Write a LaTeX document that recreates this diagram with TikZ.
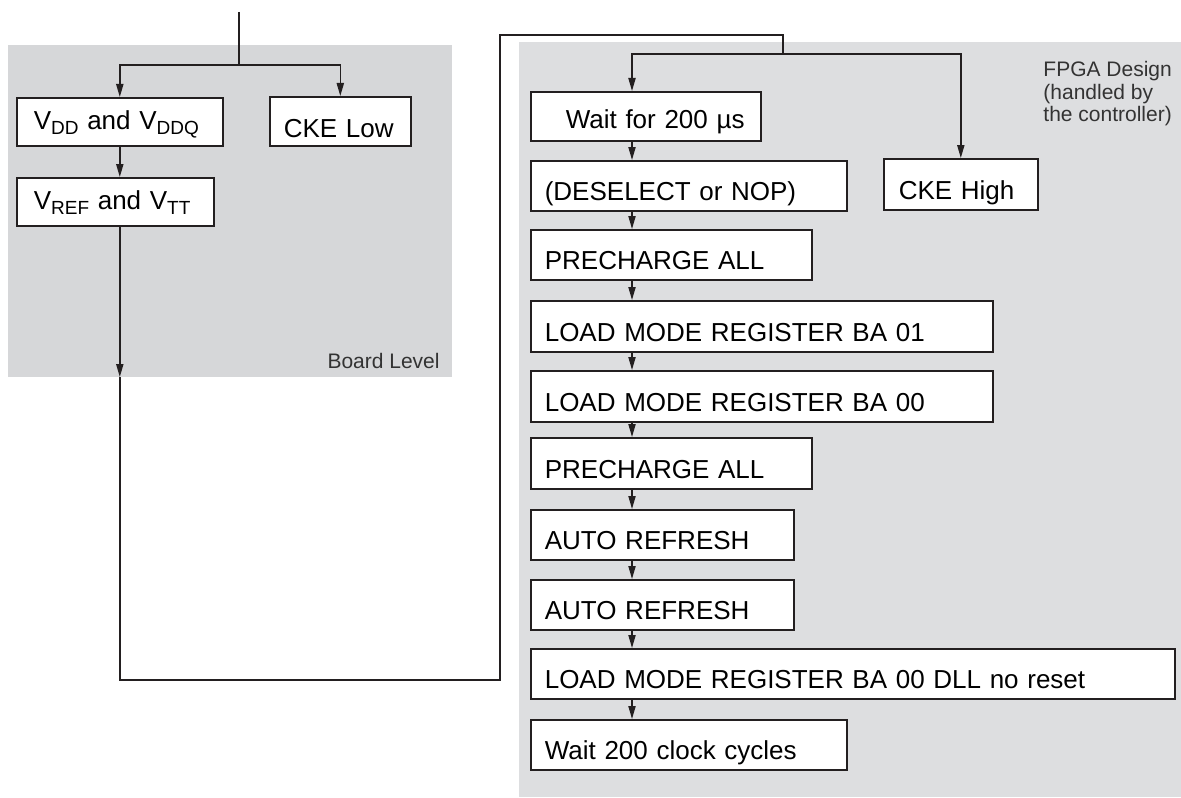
\documentclass[tikz,border=0pt]{standalone}
\usepackage{fontspec}
\setmainfont{Liberation Sans}
\usepackage{xcolor}
\definecolor{boardgray}{RGB}{214,215,217}
\definecolor{fpgagray}{RGB}{221,222,224}
\definecolor{inkgray}{RGB}{35,31,32}
\usetikzlibrary{positioning,calc,arrows.meta}
\newcommand{\lowsub}[1]{\raisebox{-2.5pt}{\fontsize{9.5pt}{9.5pt}\selectfont #1}}

\begin{document}
\begin{tikzpicture}[x=0.5pt, y=-0.5pt,
		zone/.style={fill=#1, draw=none, anchor=north west, inner sep=0pt, outer sep=0pt},
		stepbox/.style={draw=inkgray, line width=0.8pt, fill=white, anchor=north west, align=left, inner xsep=7pt, inner ysep=5pt, text height=15pt, text depth=0pt, font=\fontsize{13pt}{15pt}\selectfont},
		note/.style={text=black!80, inner sep=0pt, align=left, font=\fontsize{10.5pt}{11.25pt}\selectfont},
		flow/.style={draw=inkgray, line width=0.7pt},
		arr/.style={flow, -{Triangle[length=6.5pt,width=3.6pt]}}]
					\useasboundingbox (0,0) rectangle (1181,797);
					\node[zone=boardgray, minimum width=222pt, minimum height=166pt] (board) at (8,45) {};
					\node[zone=fpgagray, minimum width=331pt, minimum height=377.5pt] (fpga) at (519,42) {};
					\node[note, anchor=base east] (boardlabel) at (440,368) {Board Level};
					\node[note, anchor=north west] (fpgalabel) at (1043,61) {FPGA Design\\(handled by\\the controller)};

					\node[stepbox, inner xsep=8.5pt, text width=86pt, text height=11pt, text depth=3pt] (vdd) at (16,97) {V\lowsub{DD} and V\lowsub{DDQ}};
					\node[stepbox, inner ysep=4pt, text height=16.5pt, text width=56.5pt] (ckelow) at (269,96) {CKE Low};
					\node[stepbox, inner xsep=8.5pt, text width=81.5pt, text height=11pt, text depth=3pt] (vref) at (16,177) {V\lowsub{REF} and V\lowsub{TT}};

					\node[stepbox, inner ysep=6pt, text height=12.5pt, text width=101pt] (wait) at (530,91) {\hspace*{10.5pt}Wait for 200 µs};
					\node[stepbox, text width=144pt] (desel) at (530,160) {(DESELECT or NOP)};
					\node[stepbox, inner xsep=7.5pt, text height=15.5pt, text width=62pt] (ckehigh) at (883,158) {CKE High};
					\node[stepbox, text width=126.5pt] (pre1) at (530,229) {PRECHARGE ALL};
					\node[stepbox, text height=15.5pt, text width=217pt] (lmr1) at (530,300) {LOAD MODE REGISTER BA 01};
					\node[stepbox, text height=15.5pt, text width=217pt] (lmr0) at (530,370) {LOAD MODE REGISTER BA 00};
					\node[stepbox, text height=15.5pt, text width=126.5pt] (pre2) at (530,437) {PRECHARGE ALL};
					\node[stepbox, text width=117.5pt] (ar1) at (530,509) {AUTO REFRESH};
					\node[stepbox, text width=117.5pt] (ar2) at (530,579) {AUTO REFRESH};
					\node[stepbox, text width=308pt] (lmrdll) at (530,648) {LOAD MODE REGISTER BA 00 DLL no reset};
					\node[stepbox, text width=144pt] (wait200) at (530,719) {Wait 200 clock cycles};

					\coordinate (feed) at (239,12);
					\coordinate (split1) at (239,65);
					\coordinate (turn1) at (500,680);
					\coordinate (turn2) at (783,35);
					\coordinate (split2) at (783,54);
					\coordinate (spine) at (632,54);

					\draw[flow] (feed) -- (split1);
					\draw[arr] (split1) -| (vdd.north);
					\draw[arr] (split1) -| (ckelow.north);
					\draw[arr] (vdd.south) -- (vdd.south |- vref.north);
					\draw[arr] (vdd.south |- vref.south) -- (vdd.south |- board.south);
					\draw[flow] (vdd.south |- board.south) |- (turn1) |- (turn2) -- (split2);
					\draw[arr] (split2) -| (spine |- wait.north);
					\draw[arr] (split2) -| (ckehigh.north);
					\foreach \a/\b in {wait/desel, desel/pre1, pre1/lmr1, lmr1/lmr0, lmr0/pre2, pre2/ar1, ar1/ar2, ar2/lmrdll, lmrdll/wait200}
						\draw[arr] (spine |- \a.south) -- (spine |- \b.north);
			\end{tikzpicture}
\end{document}
